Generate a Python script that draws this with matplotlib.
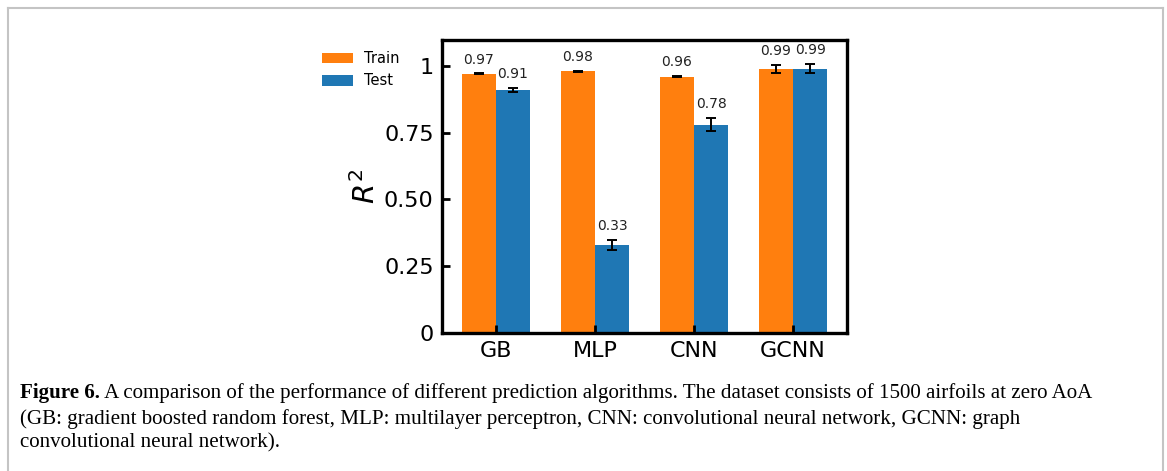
import matplotlib
matplotlib.use("Agg")
import matplotlib.pyplot as plt
from matplotlib.lines import Line2D
import numpy as np

# data
models = ['GB', 'MLP', 'CNN', 'GCNN']
train_r2 = [0.97, 0.98, 0.96, 0.99]
test_r2 = [0.91, 0.33, 0.78, 0.99]
train_err = [0.002, 0.001, 0.003, 0.015]
test_err = [0.008, 0.018, 0.025, 0.018]
yticks = [0, 0.25, 0.50, 0.75, 1]
ytick_labels = ['0', '0.25', '0.50', '0.75', '1']

caption_bold = 'Figure 6.'
caption_1 = (' A comparison of the performance of different prediction algorithms. '
             'The dataset consists of 1500 airfoils at zero AoA')
caption_rest = ('(GB: gradient boosted random forest, MLP: multilayer perceptron, '
                'CNN: convolutional neural network, GCNN: graph\n'
                'convolutional neural network).')

W, H = 1167, 471
fig = plt.figure(figsize=(W / 100, H / 100), dpi=100)
ax = fig.add_axes([442 / W, 1 - 333 / H, 405 / W, 293 / H])

x = np.arange(len(models))
w = 0.345
ekw = dict(ecolor='black', elinewidth=1.4, capsize=3.5, capthick=1.4)
ax.bar(x - w / 2, train_r2, w, yerr=train_err, color='#ff7f0e', label='Train',
       error_kw=ekw)
ax.bar(x + w / 2, test_r2, w, yerr=test_err, color='#1f77b4', label='Test',
       error_kw=ekw)

for i in range(len(models)):
    ax.text(x[i] - w / 2, train_r2[i] + train_err[i] + 0.025, f'{train_r2[i]:.2f}',
            ha='center', va='bottom', fontsize=10, color='#222222')
    ax.text(x[i] + w / 2, test_r2[i] + test_err[i] + 0.025, f'{test_r2[i]:.2f}',
            ha='center', va='bottom', fontsize=10, color='#222222')

ax.set_xlim(-0.545, 3.545)
ax.set_ylim(0, 1.097)
ax.set_xticks(x)
ax.set_xticklabels(models, fontsize=16)
ax.set_yticks(yticks)
ax.set_yticklabels(ytick_labels, fontsize=16)
ax.tick_params(direction='in', width=2, length=6, pad=6)
for s in ax.spines.values():
    s.set_linewidth(2.4)
ax.set_ylabel('$R^2$', fontsize=21, labelpad=2)

fig.legend(loc='upper left', bbox_to_anchor=(322 / W, 1 - 51 / H), frameon=False,
           fontsize=10.5, borderpad=0, borderaxespad=0, handlelength=2.1,
           handleheight=0.75, labelspacing=0.5, handletextpad=0.8)

# caption
r = fig.canvas.get_renderer()
cf = 'Liberation Serif'
fs = 15.1
t = fig.text(20 / W, 1 - 393 / H, caption_bold, fontsize=fs, fontweight='bold',
             family=cf, va='center')
bb = t.get_window_extent(renderer=r)
fig.text(bb.x1 / W, 1 - 393 / H, caption_1, fontsize=fs, family=cf, va='center')
fig.text(20 / W, 1 - 409 / H, caption_rest, fontsize=fs, family=cf, va='top',
         linespacing=1.3)

# page border
bc = '#c4c4c4'
fig.add_artist(Line2D([7.5 / W, 7.5 / W], [0, 1 - 8 / H], color=bc, lw=1.5,
                      transform=fig.transFigure))
fig.add_artist(Line2D([1163 / W, 1163 / W], [0, 1 - 8 / H], color=bc, lw=1.5,
                      transform=fig.transFigure))
fig.add_artist(Line2D([7.5 / W, 1163 / W], [1 - 8 / H, 1 - 8 / H], color=bc, lw=1.5,
                      transform=fig.transFigure))

fig.savefig('out.png', dpi=100)
